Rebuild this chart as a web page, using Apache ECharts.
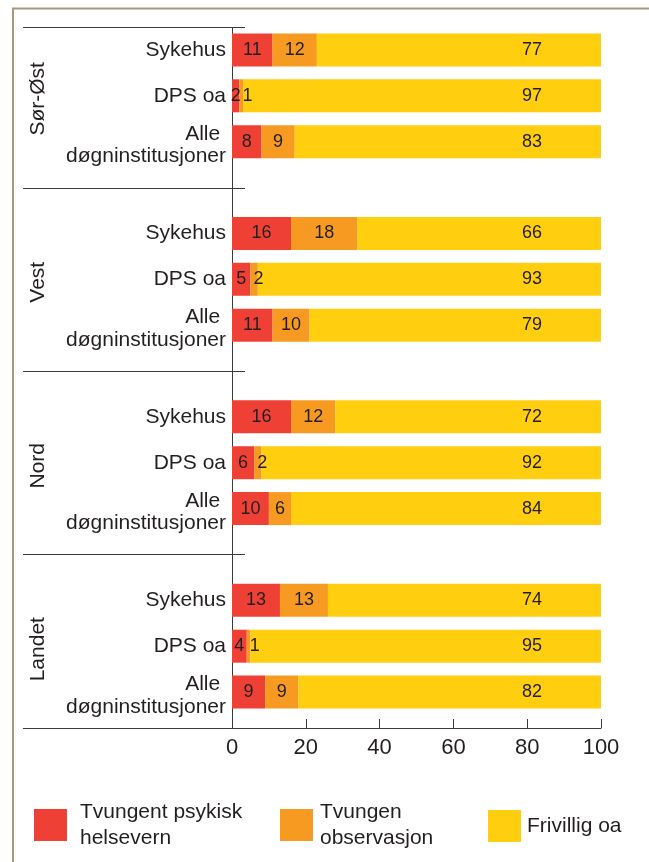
<!DOCTYPE html>
<html>
<head>
<meta charset="utf-8">
<script src="https://cdn.jsdelivr.net/npm/echarts@6/dist/echarts.min.js"></script>
<style>
html, body { margin: 0; padding: 0; background: #fff; }
#main { width: 649px; height: 862px; }
</style>
</head>
<body>
<div id="main"></div>
<script>
var regioner = ['Sør-Øst', 'Vest', 'Nord', 'Landet'];
var typer = ['Sykehus', 'DPS oa', 'Alle \ndøgninstitusjoner'];
var tvungent = [11, 2, 8, 16, 5, 11, 16, 6, 10, 13, 4, 9];
var observasjon = [12, 1, 9, 18, 2, 10, 12, 2, 6, 13, 1, 9];
var frivillig = [77, 97, 83, 66, 93, 79, 72, 92, 84, 74, 95, 82];
var serienavn = ['Tvungent psykisk\nhelsevern', 'Tvungen\nobservasjon', 'Frivillig oa'];
var farger = ['#ee4034', '#f79a22', '#fece0f'];

var tekstfarge = '#231f20';
var linjefarge = '#3a3a3a';
var font = 'Liberation Sans';
var gridTop = 27, gridH = 688, aksOffset = 13;

// kategorier med tomme plasser mellom regionene
var kategorier = [];
var radIndeks = [];   // hvilken kategori hver datarad havner i
var mellomrom = [];
var midtrad = [];
regioner.forEach(function (r, g) {
    if (g > 0) {
        mellomrom.push(kategorier.length);
        kategorier.push('_gap' + g);
    }
    typer.forEach(function (t, i) {
        if (i == 1) midtrad.push(kategorier.length);
        radIndeks.push(kategorier.length);
        kategorier.push(t);
    });
});

function fyll(verdier, lagItem) {
    var ut = kategorier.map(function () { return '-'; });
    verdier.forEach(function (v, i) {
        ut[radIndeks[i]] = lagItem ? lagItem(v) : v;
    });
    return ut;
}

var etikett = {
    show: true,
    position: 'inside',
    color: tekstfarge,
    fontFamily: font,
    fontSize: 18
};

var dom = document.getElementById('main');
var myChart = echarts.init(dom);

var option = {
    animation: false,
    grid: { left: 232, right: 48, top: gridTop, height: gridH },
    xAxis: {
        type: 'value',
        min: 0,
        max: 100,
        interval: 20,
        offset: aksOffset,
        axisLine: { show: true, lineStyle: { color: linjefarge, width: 1 } },
        axisTick: { show: true, inside: true, length: 9, lineStyle: { color: linjefarge } },
        splitLine: { show: false },
        axisLabel: { color: tekstfarge, fontFamily: font, fontSize: 22, margin: 9 }
    },
    yAxis: {
        type: 'category',
        inverse: true,
        data: kategorier,
        axisLine: { show: false },
        axisTick: { show: false },
        axisLabel: {
            interval: 0,
            color: tekstfarge,
            fontFamily: font,
            fontSize: 21,
            lineHeight: 24,
            margin: 6,
            formatter: function (v) {
                if (v.indexOf('_gap') === 0) return '';
                var linjer = v.split('\n');
                if (linjer.length < 2) return v;
                return '{l1|' + linjer[0] + '}\n{l2|' + linjer[1] + '}';
            },
            rich: {
                l1: { fontFamily: font, fontSize: 21, lineHeight: 30, verticalAlign: 'bottom', color: tekstfarge },
                l2: { fontFamily: font, fontSize: 21, lineHeight: 24, color: tekstfarge }
            }
        }
    },
    legend: serienavn.map(function (navn, i) {
        var venstre = [34, 280, 488][i];
        return {
            data: [navn],
            left: venstre,
            top: i == 2 ? 810 : 799,
            padding: 0,
            icon: 'rect',
            itemWidth: 33,
            itemHeight: 32,
            selectedMode: false,
            textStyle: {
                color: tekstfarge,
                fontFamily: font,
                fontSize: 21,
                lineHeight: 26,
                padding: [0, 0, 0, [8, 2, 1][i]]
            }
        };
    }),
    series: [
        {
            name: serienavn[0],
            type: 'bar',
            stack: 'tot',
            barWidth: 33,
            itemStyle: { color: farger[0] },
            label: etikett,
            data: fyll(tvungent)
        },
        {
            name: serienavn[1],
            type: 'bar',
            stack: 'tot',
            barWidth: 33,
            itemStyle: { color: farger[1] },
            label: etikett,
            data: fyll(observasjon, function (v) {
                if (v <= 2) return { value: v, label: { position: 'insideLeft', distance: 3 } };
                return v;
            })
        },
        {
            name: serienavn[2],
            type: 'bar',
            stack: 'tot',
            barWidth: 33,
            itemStyle: { color: farger[2] },
            label: Object.assign({}, etikett, { position: 'insideRight', distance: 59 }),
            data: fyll(frivillig)
        }
    ]
};

myChart.setOption(option);

// skillelinjer, y-akse og regionnavn
var yp = function (i) { return myChart.convertToPixel({ yAxisIndex: 0 }, i); };
var bånd = yp(1) - yp(0);
var toppY = Math.round(yp(0) - bånd / 2) + 0.5;
var bunnY = gridTop + gridH + aksOffset + 0.5;
var x0 = myChart.convertToPixel({ xAxisIndex: 0 }, 0);
var grafikk = [];

grafikk.push({
    type: 'rect',
    shape: { x: 13, y: 8.5, width: 700, height: 900 },
    style: { fill: 'none', stroke: '#a8977b', lineWidth: 2 }
});

var linjer = [toppY].concat(mellomrom.map(function (i) { return Math.round(yp(i)) + 0.5; }));
linjer.forEach(function (y) {
    grafikk.push({
        type: 'line',
        shape: { x1: 23, y1: y, x2: 245, y2: y },
        style: { stroke: linjefarge, lineWidth: 1 }
    });
});
grafikk.push({
    type: 'line',
    shape: { x1: 23, y1: bunnY, x2: x0, y2: bunnY },
    style: { stroke: linjefarge, lineWidth: 1 }
});
grafikk.push({
    type: 'line',
    shape: { x1: Math.round(x0) + 0.5, y1: toppY, x2: Math.round(x0) + 0.5, y2: bunnY },
    style: { stroke: linjefarge, lineWidth: 1 }
});

regioner.forEach(function (r, g) {
    grafikk.push({
        type: 'text',
        x: 38,
        y: yp(midtrad[g]) + 3,
        rotation: Math.PI / 2,
        style: {
            text: r,
            fill: tekstfarge,
            font: '21px "' + font + '"',
            textAlign: 'center',
            textVerticalAlign: 'middle'
        }
    });
});

myChart.setOption({ graphic: grafikk });
</script>
</body>
</html>
